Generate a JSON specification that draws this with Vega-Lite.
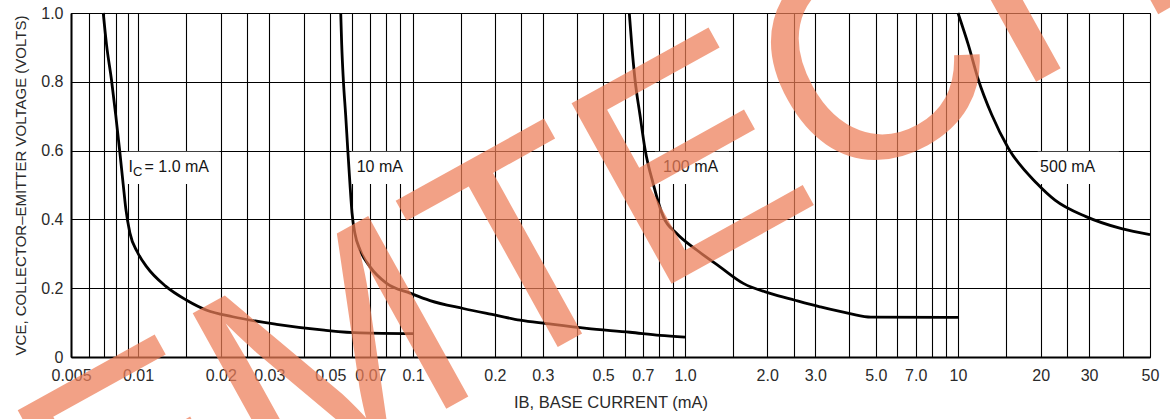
{
  "$schema": "https://vega.github.io/schema/vega-lite/v6.json",
  "width": 1079,
  "height": 344,
  "autosize": {"type": "none"},
  "padding": {"left": 71, "top": 13, "right": 20, "bottom": 62},
  "background": "white",
  "config": {
    "view": {"stroke": "#333", "strokeWidth": 1},
    "font": "Liberation Sans, Arial, sans-serif",
    "axis": {
      "grid": true,
      "gridColor": "#000",
      "gridWidth": 1.1,
      "gridOpacity": 1,
      "tickSize": 0,
      "domainColor": "#000",
      "domainWidth": 2,
      "labelFontSize": 16,
      "labelColor": "#2a2a2a",
      "labelOverlap": false,
      "labelFlush": false,
      "labelBound": false,
      "titleFontSize": 16.5,
      "titleFontWeight": "normal",
      "titleColor": "#2a2a2a"
    }
  },
  "datasets": {
    "boxes": [
      {"x0": 0.0088, "x1": 0.0198, "y0": 0.503, "y1": 0.597},
      {"x0": 0.0595, "x1": 0.0985, "y0": 0.503, "y1": 0.597},
      {"x0": 0.775, "x1": 1.45, "y0": 0.503, "y1": 0.597},
      {"x0": 19.5, "x1": 38.5, "y0": 0.503, "y1": 0.597}
    ],
    "curves": [
      {"ic": "1.0 mA", "i": 1, "ib": 0.00698, "vce": 1.0},
      {"ic": "1.0 mA", "i": 2, "ib": 0.00722, "vce": 0.908},
      {"ic": "1.0 mA", "i": 3, "ib": 0.0076, "vce": 0.806},
      {"ic": "1.0 mA", "i": 4, "ib": 0.00794, "vce": 0.704},
      {"ic": "1.0 mA", "i": 5, "ib": 0.00826, "vce": 0.604},
      {"ic": "1.0 mA", "i": 6, "ib": 0.00858, "vce": 0.502},
      {"ic": "1.0 mA", "i": 7, "ib": 0.00882, "vce": 0.43},
      {"ic": "1.0 mA", "i": 8, "ib": 0.0092, "vce": 0.36},
      {"ic": "1.0 mA", "i": 9, "ib": 0.00992, "vce": 0.306},
      {"ic": "1.0 mA", "i": 10, "ib": 0.01076, "vce": 0.262},
      {"ic": "1.0 mA", "i": 11, "ib": 0.0126, "vce": 0.206},
      {"ic": "1.0 mA", "i": 12, "ib": 0.01503, "vce": 0.165},
      {"ic": "1.0 mA", "i": 13, "ib": 0.01778, "vce": 0.136},
      {"ic": "1.0 mA", "i": 14, "ib": 0.0221, "vce": 0.117},
      {"ic": "1.0 mA", "i": 15, "ib": 0.0319, "vce": 0.095},
      {"ic": "1.0 mA", "i": 16, "ib": 0.0475, "vce": 0.078},
      {"ic": "1.0 mA", "i": 17, "ib": 0.0642, "vce": 0.07},
      {"ic": "1.0 mA", "i": 18, "ib": 0.1, "vce": 0.068},
      {"ic": "10 mA", "i": 1, "ib": 0.0546, "vce": 1.0},
      {"ic": "10 mA", "i": 2, "ib": 0.05505, "vce": 0.908},
      {"ic": "10 mA", "i": 3, "ib": 0.0558, "vce": 0.806},
      {"ic": "10 mA", "i": 4, "ib": 0.0569, "vce": 0.704},
      {"ic": "10 mA", "i": 5, "ib": 0.0579, "vce": 0.604},
      {"ic": "10 mA", "i": 6, "ib": 0.059, "vce": 0.502},
      {"ic": "10 mA", "i": 7, "ib": 0.0600, "vce": 0.42},
      {"ic": "10 mA", "i": 8, "ib": 0.0615, "vce": 0.359},
      {"ic": "10 mA", "i": 9, "ib": 0.0642, "vce": 0.311},
      {"ic": "10 mA", "i": 10, "ib": 0.0698, "vce": 0.262},
      {"ic": "10 mA", "i": 11, "ib": 0.0802, "vce": 0.214},
      {"ic": "10 mA", "i": 12, "ib": 0.098, "vce": 0.185},
      {"ic": "10 mA", "i": 13, "ib": 0.1155, "vce": 0.164},
      {"ic": "10 mA", "i": 14, "ib": 0.153, "vce": 0.141},
      {"ic": "10 mA", "i": 15, "ib": 0.203, "vce": 0.121},
      {"ic": "10 mA", "i": 16, "ib": 0.2475, "vce": 0.107},
      {"ic": "10 mA", "i": 17, "ib": 0.31, "vce": 0.097},
      {"ic": "10 mA", "i": 18, "ib": 0.435, "vce": 0.083},
      {"ic": "10 mA", "i": 19, "ib": 0.628, "vce": 0.072},
      {"ic": "10 mA", "i": 20, "ib": 0.809, "vce": 0.063},
      {"ic": "10 mA", "i": 21, "ib": 1.0, "vce": 0.058},
      {"ic": "100 mA", "i": 1, "ib": 0.624, "vce": 1.0},
      {"ic": "100 mA", "i": 2, "ib": 0.637, "vce": 0.908},
      {"ic": "100 mA", "i": 3, "ib": 0.655, "vce": 0.806},
      {"ic": "100 mA", "i": 4, "ib": 0.683, "vce": 0.704},
      {"ic": "100 mA", "i": 5, "ib": 0.713, "vce": 0.604},
      {"ic": "100 mA", "i": 6, "ib": 0.765, "vce": 0.502},
      {"ic": "100 mA", "i": 7, "ib": 0.832, "vce": 0.408},
      {"ic": "100 mA", "i": 8, "ib": 0.932, "vce": 0.359},
      {"ic": "100 mA", "i": 9, "ib": 1.104, "vce": 0.311},
      {"ic": "100 mA", "i": 10, "ib": 1.343, "vce": 0.262},
      {"ic": "100 mA", "i": 11, "ib": 1.635, "vce": 0.214},
      {"ic": "100 mA", "i": 12, "ib": 2.05, "vce": 0.185},
      {"ic": "100 mA", "i": 13, "ib": 2.53, "vce": 0.165},
      {"ic": "100 mA", "i": 14, "ib": 3.12, "vce": 0.146},
      {"ic": "100 mA", "i": 15, "ib": 4.02, "vce": 0.126},
      {"ic": "100 mA", "i": 16, "ib": 4.8, "vce": 0.116},
      {"ic": "100 mA", "i": 17, "ib": 10, "vce": 0.115},
      {"ic": "500 mA", "i": 1, "ib": 10, "vce": 1.0},
      {"ic": "500 mA", "i": 2, "ib": 10.9, "vce": 0.908},
      {"ic": "500 mA", "i": 3, "ib": 11.86, "vce": 0.806},
      {"ic": "500 mA", "i": 4, "ib": 13.27, "vce": 0.704},
      {"ic": "500 mA", "i": 5, "ib": 15.25, "vce": 0.607},
      {"ic": "500 mA", "i": 6, "ib": 19.35, "vce": 0.505},
      {"ic": "500 mA", "i": 7, "ib": 22.55, "vce": 0.456},
      {"ic": "500 mA", "i": 8, "ib": 29.24, "vce": 0.408},
      {"ic": "500 mA", "i": 9, "ib": 39.4, "vce": 0.373},
      {"ic": "500 mA", "i": 10, "ib": 50, "vce": 0.356}
    ],
    "labels": [
      {"t": "I", "x": 0.00906, "y": 0.553},
      {"t": "= 1.0 mA", "x": 0.01056, "y": 0.553},
      {"t": "10 mA", "x": 0.0624, "y": 0.553},
      {"t": "100 mA", "x": 0.83, "y": 0.553},
      {"t": "500 mA", "x": 19.9, "y": 0.553}
    ],
    "subs": [
      {"t": "C", "x": 0.00949, "y": 0.553}
    ],
    "watermark": [
      {"t": "SEMTECH", "x": 0.355, "y": 0.037}
    ]
  },
  "layer": [
    {
      "data": {"name": "boxes"},
      "mark": {"type": "rect", "fill": "white", "stroke": null},
      "encoding": {
        "x": {
          "field": "x0", "type": "quantitative",
          "scale": {"type": "log", "domain": [0.005, 0.01, 0.1, 1, 10, 50], "range": [0, 67, 342, 614, 887, 1079], "nice": false},
          "axis": {
            "title": "IB, BASE CURRENT (mA)",
            "values": [0.005, 0.006, 0.007, 0.008, 0.009, 0.01, 0.015, 0.02, 0.025, 0.03, 0.04, 0.05, 0.06, 0.07, 0.08, 0.09, 0.1, 0.15, 0.2, 0.25, 0.3, 0.4, 0.5, 0.6, 0.7, 0.8, 0.9, 1, 1.5, 2, 2.5, 3, 4, 5, 6, 7, 8, 9, 10, 15, 20, 25, 30, 40, 50],
            "labelExpr": "indexof([0.005,0.01,0.02,0.03,0.05,0.07,0.1,0.2,0.3,0.5,0.7,1,2,3,5,7,10,20,30,50], datum.value) < 0 ? '' : (datum.value < 1 ? format(datum.value, '~g') : (datum.value < 10 ? format(datum.value, '.1f') : format(datum.value, 'd')))",
            "labelPadding": 10,
            "titlePadding": 11
          }
        },
        "x2": {"field": "x1"},
        "y": {
          "field": "y0", "type": "quantitative",
          "scale": {"domain": [0, 1], "nice": false},
          "axis": {
            "title": "VCE, COLLECTOR–EMITTER VOLTAGE (VOLTS)",
            "titleFontSize": 15,
            "values": [0, 0.1, 0.2, 0.3, 0.4, 0.5, 0.6, 0.7, 0.8, 0.9, 1.0],
            "labelExpr": "datum.value == 0 ? '0' : (round(datum.value * 10) % 2 == 0 ? format(datum.value, '.1f') : '')",
            "labelPadding": 8,
            "titlePadding": 12
          }
        },
        "y2": {"field": "y1"}
      }
    },
    {
      "data": {"name": "curves"},
      "mark": {"type": "line", "color": "#000", "strokeWidth": 2.8, "interpolate": "monotone"},
      "encoding": {
        "x": {"field": "ib", "type": "quantitative", "scale": {"type": "log", "domain": [0.005, 0.01, 0.1, 1, 10, 50], "range": [0, 67, 342, 614, 887, 1079], "nice": false}},
        "y": {"field": "vce", "type": "quantitative", "scale": {"domain": [0, 1], "nice": false}},
        "detail": {"field": "ic"},
        "order": {"field": "i", "type": "quantitative"}
      }
    },
    {
      "data": {"name": "labels"},
      "mark": {"type": "text", "align": "left", "baseline": "middle", "fontSize": 16, "color": "#151515"},
      "encoding": {
        "x": {"field": "x", "type": "quantitative", "scale": {"type": "log", "domain": [0.005, 0.01, 0.1, 1, 10, 50], "range": [0, 67, 342, 614, 887, 1079], "nice": false}},
        "y": {"field": "y", "type": "quantitative", "scale": {"domain": [0, 1], "nice": false}},
        "text": {"field": "t"}
      }
    },
    {
      "data": {"name": "subs"},
      "mark": {"type": "text", "align": "left", "baseline": "middle", "fontSize": 13, "dy": 5, "color": "#151515"},
      "encoding": {
        "x": {"field": "x", "type": "quantitative", "scale": {"type": "log", "domain": [0.005, 0.01, 0.1, 1, 10, 50], "range": [0, 67, 342, 614, 887, 1079], "nice": false}},
        "y": {"field": "y", "type": "quantitative", "scale": {"domain": [0, 1], "nice": false}},
        "text": {"field": "t"}
      }
    },
    {
      "data": {"name": "watermark"},
      "mark": {"type": "text", "align": "center", "baseline": "alphabetic", "fontSize": 300, "font": "Liberation Sans, Arial, sans-serif", "angle": 331, "color": "#EE7E58", "opacity": 0.72},
      "encoding": {
        "x": {"field": "x", "type": "quantitative", "scale": {"type": "log", "domain": [0.005, 0.01, 0.1, 1, 10, 50], "range": [0, 67, 342, 614, 887, 1079], "nice": false}},
        "y": {"field": "y", "type": "quantitative", "scale": {"domain": [0, 1], "nice": false}},
        "text": {"field": "t"}
      }
    }
  ]
}
